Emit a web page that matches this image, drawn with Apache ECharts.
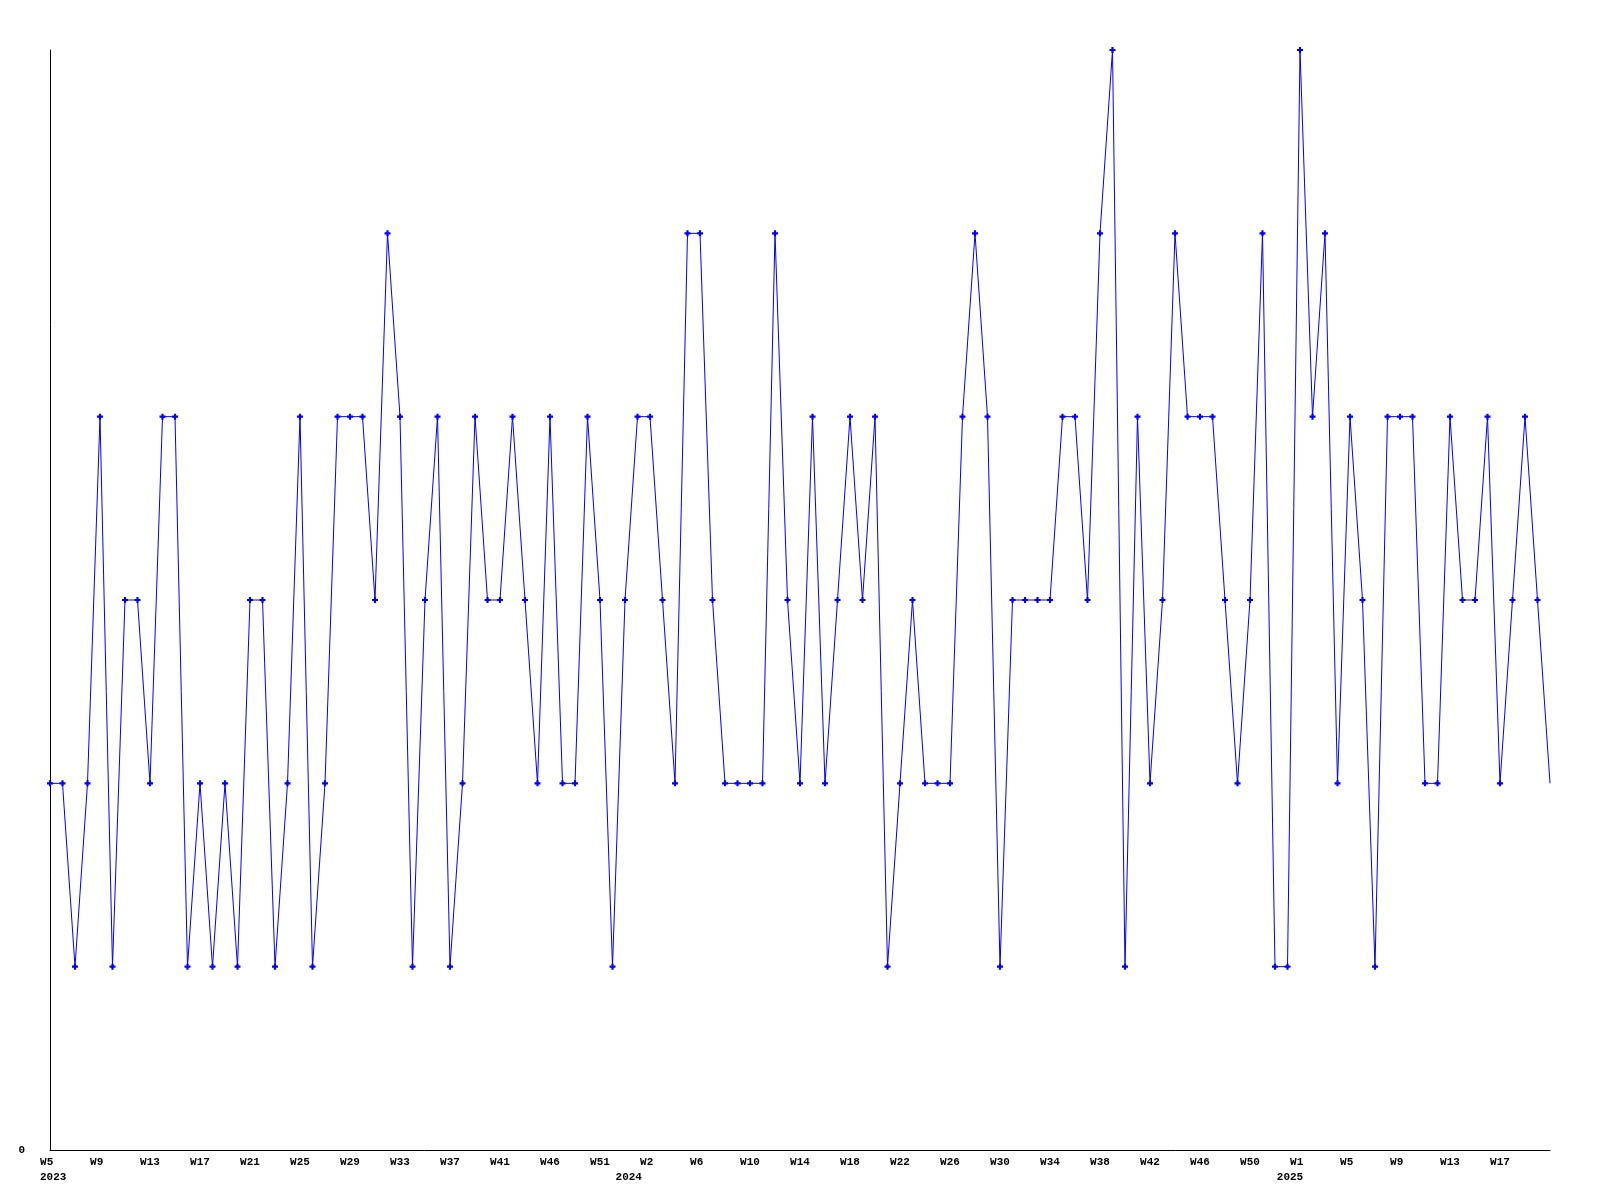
<!DOCTYPE html>
<html>
<head>
<meta charset="utf-8">
<script src="https://cdn.jsdelivr.net/npm/echarts@6/dist/echarts.min.js"></script>
<style>
  html, body { margin: 0; padding: 0; background: #ffffff; }
  #chart { width: 1600px; height: 1200px; }
</style>
</head>
<body>
<div id="chart"></div>
<script>
// Weekly values, 2023 W5 .. 2025 W21 (121 weeks)
const values = [
  2, 2, 1, 2, 4, 1, 3, 3, 2, 4,
  4, 1, 2, 1, 2, 1, 3, 3, 1, 2,
  4, 1, 2, 4, 4, 4, 3, 5, 4, 1,
  3, 4, 1, 2, 4, 3, 3, 4, 3, 2,
  4, 2, 2, 4, 3, 1, 3, 4, 4, 3,
  2, 5, 5, 3, 2, 2, 2, 2, 5, 3,
  2, 4, 2, 3, 4, 3, 4, 1, 2, 3,
  2, 2, 2, 4, 5, 4, 1, 3, 3, 3,
  3, 4, 4, 3, 5, 6, 1, 4, 2, 3,
  5, 4, 4, 4, 3, 2, 3, 5, 1, 1,
  6, 4, 5, 2, 4, 3, 1, 4, 4, 4,
  2, 2, 4, 3, 3, 4, 2, 3, 4, 3,
  2
];

// Tick labels shown every 4th week
const weekTickLabels = [
  'W5', 'W9', 'W13', 'W17', 'W21', 'W25', 'W29', 'W33', 'W37', 'W41',
  'W46', 'W51', 'W2', 'W6', 'W10', 'W14', 'W18', 'W22', 'W26', 'W30',
  'W34', 'W38', 'W42', 'W46', 'W50', 'W1', 'W5', 'W9', 'W13', 'W17'
];

// Year labels and where (in week index units) they sit
const yearLabels = ['2023', '2024', '2025'];
const yearLabelPos = [0.25, 46.3, 99.2];

const FONT = 'Liberation Mono';
const lastIndex = values.length - 1;

const seriesData = values.map((v, i) => {
  if (i === lastIndex) return { value: [i, v], symbol: 'none' };
  return [i, v];
});

const chart = echarts.init(document.getElementById('chart'), null, { renderer: 'canvas' });

chart.setOption({
  animation: false,
  backgroundColor: '#ffffff',
  grid: { left: 50, right: 50, top: 50, bottom: 50, containLabel: false },
  xAxis: [
    {
      type: 'value',
      min: 0,
      max: lastIndex,
      interval: 4,
      axisLine: { show: true, lineStyle: { color: '#000000', width: 1 } },
      axisTick: { show: false },
      splitLine: { show: false },
      axisLabel: {
        show: true,
        margin: 7,
        color: '#000000',
        fontFamily: FONT,
        fontWeight: 'bold',
        fontSize: 11,
        showMinLabel: true,
        showMaxLabel: true,
        hideOverlap: false,
        formatter: function (v) {
          const k = Math.round(v / 4);
          if (Math.abs(v - k * 4) > 1e-6) return '';
          const s = weekTickLabels[k];
          if (!s) return '';
          return s.length < 3 ? s + ' '.repeat(3 - s.length) : s;
        }
      }
    },
    {
      type: 'value',
      min: 0,
      max: lastIndex,
      position: 'bottom',
      axisLine: { show: false },
      axisTick: { show: false },
      splitLine: { show: false },
      axisLabel: {
        show: true,
        margin: 22,
        color: '#000000',
        fontFamily: FONT,
        fontWeight: 'bold',
        fontSize: 11,
        customValues: yearLabelPos,
        showMinLabel: true,
        showMaxLabel: true,
        hideOverlap: false,
        formatter: function (v) {
          let best = 0, bd = Infinity;
          yearLabelPos.forEach((p, i) => {
            const d = Math.abs(p - v);
            if (d < bd) { bd = d; best = i; }
          });
          return bd < 0.5 ? yearLabels[best] : '';
        }
      }
    }
  ],
  yAxis: {
    type: 'value',
    min: 0,
    max: 6,
    interval: 6,
    axisLine: { show: true, lineStyle: { color: '#000000', width: 1 } },
    axisTick: { show: false },
    splitLine: { show: false },
    axisLabel: {
      margin: 25,
      color: '#000000',
      fontFamily: FONT,
      fontWeight: 'bold',
      fontSize: 11,
      formatter: function (v) { return v === 0 ? '0' : ''; }
    }
  },
  series: [
    {
      type: 'line',
      xAxisIndex: 0,
      data: seriesData,
      color: '#0000ff',
      lineStyle: { color: '#0000ff', width: 1 },
      itemStyle: { color: '#0000ff' },
      symbol: 'path://M1.6,0H3.4V1.6H5V3.4H3.4V5H1.6V3.4H0V1.6H1.6Z',
      symbolSize: 6,
      showSymbol: true,
      showAllSymbol: true,
      emphasis: { disabled: true },
      clip: false
    }
  ]
});
</script>
</body>
</html>
